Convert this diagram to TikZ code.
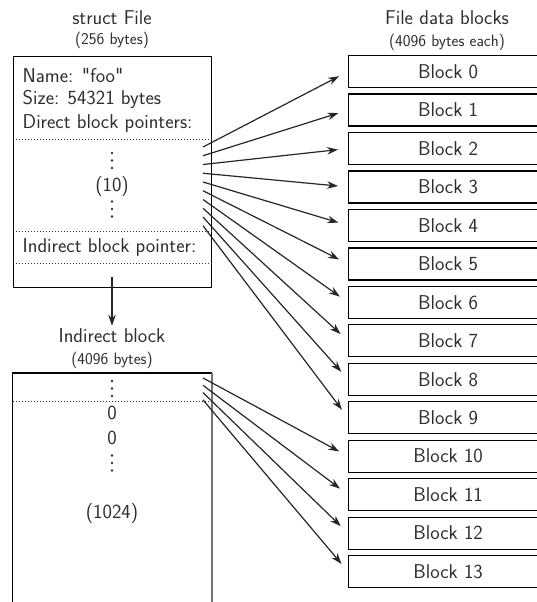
\documentclass[tikz,border=0pt]{standalone}
\usepackage{fontspec}
\usetikzlibrary{arrows.meta}
\begin{document}
\begin{tikzpicture}[x=1pt,y=-1pt,
  every node/.style={font=\sffamily\fontsize{20}{24}\selectfont, text=black!82, inner sep=0pt},
  small/.style={font=\sffamily\fontsize{16.5}{20}\selectfont},
  frame/.style={draw=black, line width=1.2pt},
  sep/.style={draw=black!80, dotted, line width=1pt},
  ptr/.style={draw=black!85, -{Stealth[length=11pt,width=7.5pt]}, line width=1.2pt, shorten >=10pt},
  blockbox/.style={draw=black, line width=1.2pt, minimum width=199pt, minimum height=32pt, anchor=north west},
  vdot/.style={fill=black!80}
]
\useasboundingbox (0,0) rectangle (537,602);
\clip (0,0) rectangle (537,602);

% ---- struct File ----
\node (sftitle) at (112,18) {struct File};
\node[small] (sfsize) at (112,40) {(256 bytes)};
\node[frame, anchor=north west, minimum width=198.5pt, minimum height=231pt] (sf) at (12.7,56) {};
\node[anchor=west] (name) at (22.5,75) {Name: \textquotedbl foo\textquotedbl};
\node[anchor=west] (size) at (22.5,99.5) {Size: 54321 bytes};
\node[anchor=west] (dbp) at (22.5,124) {Direct block pointers:};
\draw[sep] (12.7,139) -- (211,139);
\node (ten) at (112,187) {(10)};
\draw[sep] (12.7,231) -- (211,231);
\node[anchor=west] (ibp) at (22.5,248) {Indirect block pointer:};
\draw[sep] (12.7,263) -- (211,263);

% ---- indirect block ----
\node (ititle) at (112,336) {Indirect block};
\node[small] (isize) at (112,360) {(4096 bytes)};
\node[anchor=north west, minimum width=198.5pt, minimum height=260pt] (ib) at (12.7,373) {};
\draw[frame] (ib.south west) -- (ib.north west) -- (ib.north east);
\draw[draw=black!55, line width=1.8pt] (ib.north east) -- (ib.south east);
\draw[sep] (12.7,401) -- (211,401);
\node (z1) at (112,413) {0};
\node (z2) at (112,438) {0};
\node (kilo) at (112,514) {(1024)};

% vertical ellipses (top dot positions)
\foreach \y in {153,201.5,381,455.5}
  \foreach \k in {0,1,2}
    \fill[vdot] (112,{\y+7.5*\k}) circle (1.35pt);

\coordinate (ip) at (112,277);
\draw[ptr, shorten >=3pt] (ip) -- (ititle.north);

% ---- file data blocks ----
\node (bltitle) at (447,18) {File data blocks};
\node[small] (blsize) at (447,42) {(4096 bytes each)};
\foreach \i in {0,...,13}
  \node[blockbox] (b\i) at (348,{55+38.46*\i}) {Block \i};

% direct pointers
\foreach \i in {0,...,9} {
  \coordinate (d\i) at (203,{147+8.75*\i});
  \draw[ptr] (d\i) -- (b\i.west);
}
% pointers held in the indirect block
\foreach \j/\k in {0/10,1/11,2/12,3/13} {
  \coordinate (e\j) at (203,{378+7.3*\j});
  \draw[ptr] (e\j) -- (b\k.west);
}
\end{tikzpicture}
\end{document}
